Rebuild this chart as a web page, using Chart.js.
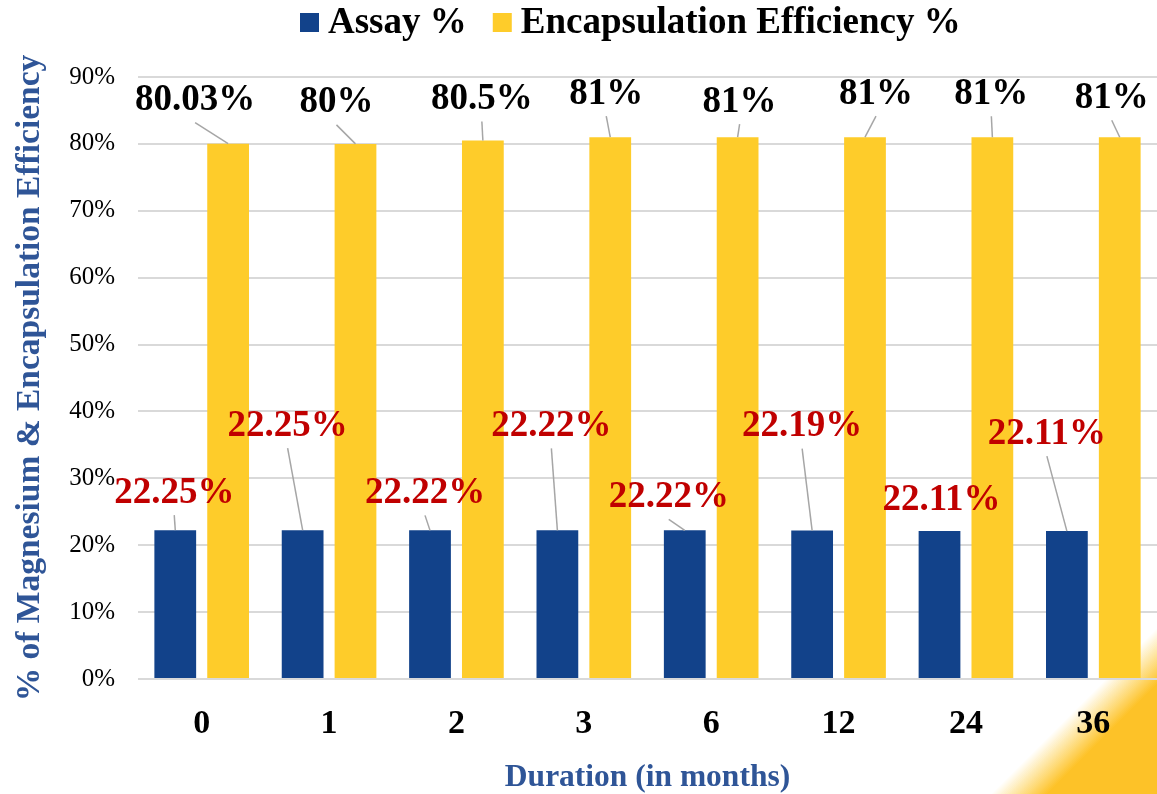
<!DOCTYPE html>
<html>
<head>
<meta charset="utf-8">
<title>Assay and encapsulation efficiency</title>
<script src="https://cdn.jsdelivr.net/npm/chart.js@4.4.1/dist/chart.umd.min.js"></script>
<style>
  html, body { margin: 0; padding: 0; background: #fff; }
  #wrap { width: 1157px; height: 794px; position: relative; }
</style>
</head>
<body>
<div id="wrap"><canvas id="stabilityChart"></canvas></div>
<script>
// data
const months = ['0', '1', '2', '3', '6', '12', '24', '36'];
const assay = [22.25, 22.25, 22.22, 22.22, 22.22, 22.19, 22.11, 22.11];
const encapsulation = [80.03, 80, 80.5, 81, 81, 81, 81, 81];
const yTicks = [0, 10, 20, 30, 40, 50, 60, 70, 80, 90];

// labels were dragged around by hand in the original: offset (px) from the bar top
const assayLabelShift = [[-1, -37], [-15, -104], [-5, -37], [-6, -104], [-16, -33], [-10, -104], [2, -31], [-20, -97]];
const encLabelShift = [[-33, -43], [-19, -41], [-1, -41], [-4, -43], [2, -35], [11, -43], [-1, -43], [-8, -39]];

const SERIF = "'Liberation Serif', 'Times New Roman', serif";
const BLUE = '#12428A';
const YELLOW = '#FECC2A';
const TITLE_BLUE = '#2F5597';

// the yellow corner swoosh from the slide background
const cornerDecor = {
  id: 'cornerDecor',
  beforeDraw(chart) {
    const ctx = chart.ctx;
    const w = chart.width, h = chart.height;
    const ex = w - 80, ey = h - 74;
    const g = ctx.createLinearGradient(ex - 6, ey - 6, ex + 22, ey + 22);
    g.addColorStop(0, 'rgba(254, 200, 42, 0)');
    g.addColorStop(1, 'rgba(253, 194, 40, 1)');
    ctx.save();
    ctx.fillStyle = g;
    ctx.fillRect(w - 200, h - 200, 200, 200);
    ctx.restore();
  }
};

// legend row across the top, squares + bold text like the slide
const topLegend = {
  id: 'topLegend',
  afterDraw(chart) {
    const ctx = chart.ctx;
    let x = 300;
    ctx.save();
    ctx.font = 'bold 37px ' + SERIF;
    ctx.textAlign = 'left';
    ctx.textBaseline = 'alphabetic';
    chart.data.datasets.forEach(ds => {
      ctx.fillStyle = ds.backgroundColor;
      ctx.fillRect(x, 13, 19, 19);
      x += 28;
      ctx.fillStyle = '#000';
      ctx.fillText(ds.label, x, 33);
      x += ctx.measureText(ds.label).width + 26;
    });
    ctx.restore();
  }
};

// data labels with leader lines, like excel's moved labels
const barLabels = {
  id: 'barLabels',
  afterDatasetsDraw(chart) {
    const ctx = chart.ctx;
    const setups = [
      { shift: assayLabelShift, color: '#C00000' },
      { shift: encLabelShift, color: '#000000' }
    ];
    ctx.save();
    ctx.font = 'bold 37px ' + SERIF;
    ctx.textAlign = 'center';
    ctx.textBaseline = 'middle';
    chart.data.datasets.forEach((ds, di) => {
      const meta = chart.getDatasetMeta(di);
      const s = setups[di];
      meta.data.forEach((bar, i) => {
        const cx = bar.x + s.shift[i][0];
        const cy = bar.y + s.shift[i][1];
        const lineStart = cy + 22;
        if (bar.y - lineStart > 10) {
          ctx.strokeStyle = '#A6A6A6';
          ctx.lineWidth = 1.5;
          ctx.beginPath();
          ctx.moveTo(cx, lineStart);
          ctx.lineTo(bar.x, bar.y);
          ctx.stroke();
        }
        ctx.fillStyle = s.color;
        ctx.fillText(ds.data[i] + '%', cx, cy);
      });
    });
    ctx.restore();
  }
};

const ctx = document.getElementById('stabilityChart');
new Chart(ctx, {
  type: 'bar',
  data: {
    labels: months,
    datasets: [
      {
        label: 'Assay %',
        data: assay,
        backgroundColor: BLUE,
        categoryPercentage: 0.83,
        barPercentage: 0.79
      },
      {
        label: 'Encapsulation Efficiency %',
        data: encapsulation,
        backgroundColor: YELLOW,
        categoryPercentage: 0.83,
        barPercentage: 0.79
      }
    ]
  },
  options: {
    responsive: true,
    maintainAspectRatio: false,
    animation: false,
    layout: { padding: { left: 0, right: 0, top: 77, bottom: 0 } },
    plugins: {
      legend: { display: false },
      tooltip: { enabled: false }
    },
    scales: {
      x: {
        grid: { display: false, drawTicks: false },
        border: { display: false },
        ticks: {
          color: '#000',
          padding: 25,
          font: { family: SERIF, size: 34, weight: 'bold' }
        },
        title: {
          display: true,
          text: 'Duration (in months)',
          color: TITLE_BLUE,
          padding: { top: 0, bottom: -3 },
          font: { family: SERIF, size: 31.5, weight: 'bold' }
        },
        afterFit(scale) { scale.height = 115; }
      },
      y: {
        min: 0,
        max: 90,
        afterBuildTicks(scale) { scale.ticks = yTicks.map(v => ({ value: v })); },
        grid: { color: '#D9D9D9', lineWidth: 2, drawTicks: false },
        border: { display: false },
        ticks: {
          color: '#000',
          padding: 23,
          font: { family: SERIF, size: 25 },
          callback: v => v + '%'
        },
        title: {
          display: true,
          text: '% of Magnesium & Encapsulation Efficiency',
          color: TITLE_BLUE,
          padding: { top: 10, bottom: 0 },
          font: { family: SERIF, size: 33.5, weight: 'bold' }
        },
        afterFit(scale) { scale.width = 138; }
      }
    }
  },
  plugins: [cornerDecor, barLabels, topLegend]
});
</script>
</body>
</html>
